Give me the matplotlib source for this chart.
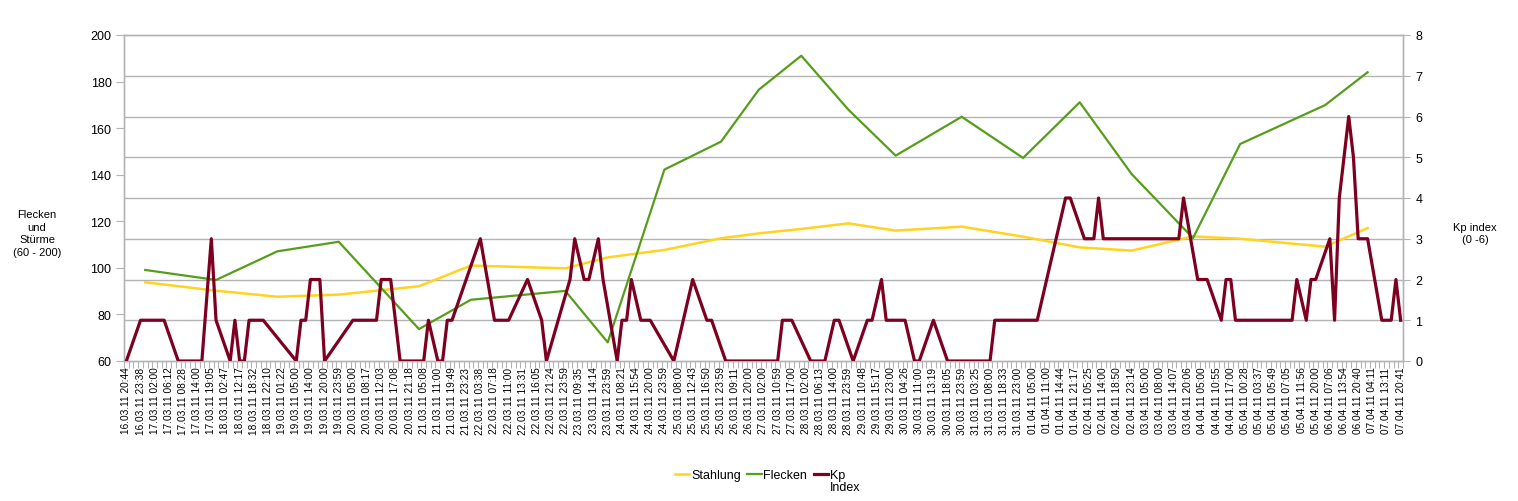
import matplotlib
matplotlib.use('Agg')
import matplotlib.pyplot as plt
import numpy as np

plt.rcParams['font.family'] = ['Liberation Sans', 'DejaVu Sans']

# ---------------- data ----------------
tick_labels = [
    "16.03.11 20:44", "16.03.11 23:38", "17.03.11 02:00", "17.03.11 06:12", "17.03.11 08:28",
    "17.03.11 14:00", "17.03.11 19:05", "18.03.11 02:47", "18.03.11 12:17", "18.03.11 18:32",
    "18.03.11 22:10", "19.03.11 01:22", "19.03.11 05:00", "19.03.11 14:00", "19.03.11 20:00",
    "19.03.11 23:59", "20.03.11 05:00", "20.03.11 08:17", "20.03.11 12:03", "20.03.11 17:08",
    "20.03.11 21:18", "21.03.11 05:08", "21.03.11 11:00", "21.03.11 19:49", "21.03.11 23:23",
    "22.03.11 03:38", "22.03.11 07:18", "22.03.11 11:00", "22.03.11 13:31", "22.03.11 16:05",
    "22.03.11 21:24", "22.03.11 23:59", "23.03.11 09:35", "23.03.11 14:14", "23.03.11 23:59",
    "24.03.11 08:21", "24.03.11 15:54", "24.03.11 20:00", "24.03.11 23:59", "25.03.11 08:00",
    "25.03.11 12:43", "25.03.11 16:50", "25.03.11 23:59", "26.03.11 09:11", "26.03.11 20:00",
    "27.03.11 02:00", "27.03.11 10:59", "27.03.11 17:00", "28.03.11 02:00", "28.03.11 06:13",
    "28.03.11 14:00", "28.03.11 23:59", "29.03.11 10:48", "29.03.11 15:17", "29.03.11 23:00",
    "30.03.11 04:26", "30.03.11 11:00", "30.03.11 13:19", "30.03.11 18:05", "30.03.11 23:59",
    "31.03.11 03:25", "31.03.11 08:00", "31.03.11 18:33", "31.03.11 23:00", "01.04.11 05:00",
    "01.04.11 11:00", "01.04.11 14:44", "01.04.11 21:17", "02.04.11 05:25", "02.04.11 14:00",
    "02.04.11 18:50", "02.04.11 23:14", "03.04.11 05:00", "03.04.11 08:00", "03.04.11 14:07",
    "03.04.11 20:06", "04.04.11 05:00", "04.04.11 10:55", "04.04.11 17:00", "05.04.11 00:28",
    "05.04.11 03:37", "05.04.11 05:49", "05.04.11 07:05", "05.04.11 11:56", "05.04.11 20:00",
    "06.04.11 07:06", "06.04.11 13:54", "06.04.11 20:40", "07.04.11 04:11", "07.04.11 13:11",
    "07.04.11 20:41",
]
n_categories = 271
label_step = 3

# daily values (category index of the day's entry)
day_idx = [4, 19, 32, 45, 62, 73, 93, 102, 114, 126, 134, 143, 153, 163, 177, 190,
           202, 213, 226, 236, 254, 263]
stahlung = [93.8, 90.2, 87.6, 88.5, 92.1, 101.0, 99.8, 104.5, 107.7, 112.7, 114.8,
            116.7, 119.1, 116.0, 117.7, 113.4, 108.8, 107.4, 113.5, 112.5, 109.1, 117.1]
flecken = [99.1, 94.8, 107.1, 111.2, 73.7, 86.3, 90.1, 68.0, 142.2, 154.2, 176.5,
           191.1, 167.9, 148.2, 164.9, 147.2, 171.1, 140.3, 112.8, 153.2, 169.9, 184.0]

# Kp index (category index, value)
kp_idx = [0, 3, 8, 11, 16, 18, 19, 22, 23, 24, 25, 26, 29, 36, 37, 38, 39, 41, 42, 48,
          53, 54, 56, 58, 63, 64, 66, 67, 68, 69, 75, 78, 81, 85, 88, 89, 94, 95, 97, 98,
          100, 101, 104, 105, 106, 107, 109, 111, 116, 120, 123, 124, 127, 138, 139, 141,
          145, 148, 150, 151, 154, 157, 158, 160, 161, 165, 167, 168, 171, 174, 183, 184,
          193, 195, 197, 199, 200, 203, 205, 206, 207, 223, 224, 227, 229, 232, 233, 234,
          235, 247, 248, 250, 251, 252, 255, 256, 257, 259, 260, 261, 263, 266, 268, 269,
          270]
kp_val = [0, 1, 1, 0, 0, 3, 1, 0, 1, 0, 0, 1, 1, 0, 1, 1, 2, 2, 0, 1,
          1, 2, 2, 0, 0, 1, 0, 0, 1, 1, 3, 1, 1, 2, 1, 0, 2, 3, 2, 2,
          3, 2, 0, 1, 1, 2, 1, 1, 0, 2, 1, 1, 0, 0, 1, 1,
          0, 0, 1, 1, 0, 1, 1, 2, 1, 1, 0, 0, 1, 0, 0, 1,
          1, 2, 3, 4, 4, 3, 3, 4, 3, 3, 4, 2, 2, 1, 2, 2,
          1, 1, 2, 1, 2, 2, 3, 1, 4, 6, 5, 3, 3, 1, 1, 2,
          1]

# ---------------- figure ----------------
W, H = 1518, 502
fig = plt.figure(figsize=(W / 100, H / 100), dpi=100)
ax1 = fig.add_axes([124 / W, 1 - 362 / H, (1403 - 124) / W, (362 - 36) / H])
ax2 = ax1.twinx()

grey = '#b3b3b3'
c_yellow = '#ffd320'
c_green = '#579d1c'
c_kp = '#7e0021'

ax1.set_xlim(-0.5, n_categories - 0.5)
ax1.set_ylim(60, 200)
ax2.set_ylim(0, 8)

l1, = ax1.plot(day_idx, stahlung, color=c_yellow, lw=1.8, label='Stahlung', zorder=3)
l2, = ax1.plot(day_idx, flecken, color=c_green, lw=1.6, label='Flecken', zorder=3)
l3, = ax2.plot(kp_idx, kp_val, color=c_kp, lw=2.3, label='Kp', zorder=3)

# y ticks
ax1.set_yticks(np.arange(60, 201, 20))
ax2.set_yticks(np.arange(0, 9, 1))

# gridlines from secondary axis, drawn behind on the primary axis
fig.canvas.draw()
grid_pos = []
for k in ax2.get_yticks():
    yd = ax2.transData.transform((0, k))[1]
    grid_pos.append(ax1.transData.inverted().transform((0, yd))[1])
ax1.set_yticks(grid_pos, minor=True)
ax1.yaxis.grid(True, which='minor', color=grey, lw=1.0, zorder=0)
ax1.set_axisbelow(True)
ax1.tick_params(axis='y', which='minor', length=0)

# x ticks
ax1.set_xticks(np.arange(0, n_categories, label_step))
ax1.set_xticklabels(tick_labels, rotation=90, fontsize=7.3)
ax1.set_xticks(np.arange(-0.5, n_categories, 1), minor=True)
ax1.tick_params(axis='x', which='major', length=0, pad=4)
ax1.tick_params(axis='x', which='minor', length=5, color=grey, width=0.8, direction='out')

ax1.tick_params(axis='y', which='major', length=6, color=grey, width=0.8, labelsize=9, pad=3)
ax2.tick_params(axis='y', which='major', length=5, color=grey, width=0.8, labelsize=9, pad=4)

for ax in (ax1, ax2):
    for s in ax.spines.values():
        s.set_color(grey)
        s.set_linewidth(1.0)

# axis titles
fig.text(37 / W, 1 - 234 / H, 'Flecken\nund\nStürme\n(60 - 200)', ha='center', va='center',
         fontsize=8, linespacing=1.3)
fig.text(1475 / W, 1 - 234 / H, 'Kp index\n(0 -6)', ha='center', va='center',
         fontsize=8, linespacing=1.3)

# legend
leg = fig.legend(handles=[l1, l2, l3], loc='center', bbox_to_anchor=(760 / W, 1 - 476 / H),
                 ncol=3, frameon=False, fontsize=9, handlelength=1.15, handletextpad=0.15,
                 columnspacing=0.5, borderpad=0)
fig.canvas.draw()
bb = leg.get_texts()[2].get_window_extent()
x0, y0 = fig.transFigure.inverted().transform((bb.x0, bb.y0))
fig.text(x0, y0, 'Index', ha='left', va='top', fontsize=9)

fig.savefig('out.png', dpi=100)
